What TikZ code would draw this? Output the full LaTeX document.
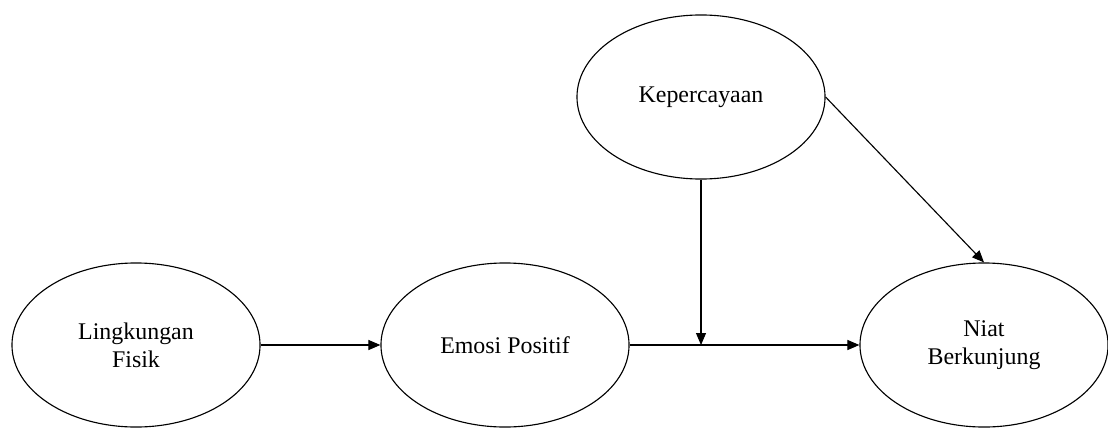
\documentclass[tikz,border=0pt]{standalone}
\usepackage{fontspec}
\setmainfont{Liberation Serif}
\usetikzlibrary{shapes.geometric,arrows.meta}

\tikzset{
  var/.style={draw, ellipse, line width=0.8pt, inner sep=0pt,
    minimum width=6.2cm, minimum height=4.1cm, align=center,
    font=\fontsize{17}{20}\selectfont},
  link/.style={line width=0.8pt, -{Triangle[length=3mm,width=2.5mm]}}
}

\begin{document}
\begin{tikzpicture}[x=0.025cm, y=-0.025cm]
        \useasboundingbox (0,0) rectangle (1108,427);

        % Variables
        \node[var] (lingk) at (136,345) {Lingkungan\\Fisik};
        \node[var] (emosi) at (505,345) {Emosi Positif};
        \node[var] (kep) at (701,97) {Kepercayaan};
        \node[var] (niat) at (984,345) {Niat\\Berkunjung};

        % Moderation point
        \coordinate (mod) at (kep.south |- emosi.east);

        % Paths
        \draw[link] (lingk) -- (emosi);
        \draw[link] (emosi) -- (niat);
        \draw[link] (kep) -- (mod);
        \draw[link] (kep.east) -- (niat.north);
\end{tikzpicture}
\end{document}
